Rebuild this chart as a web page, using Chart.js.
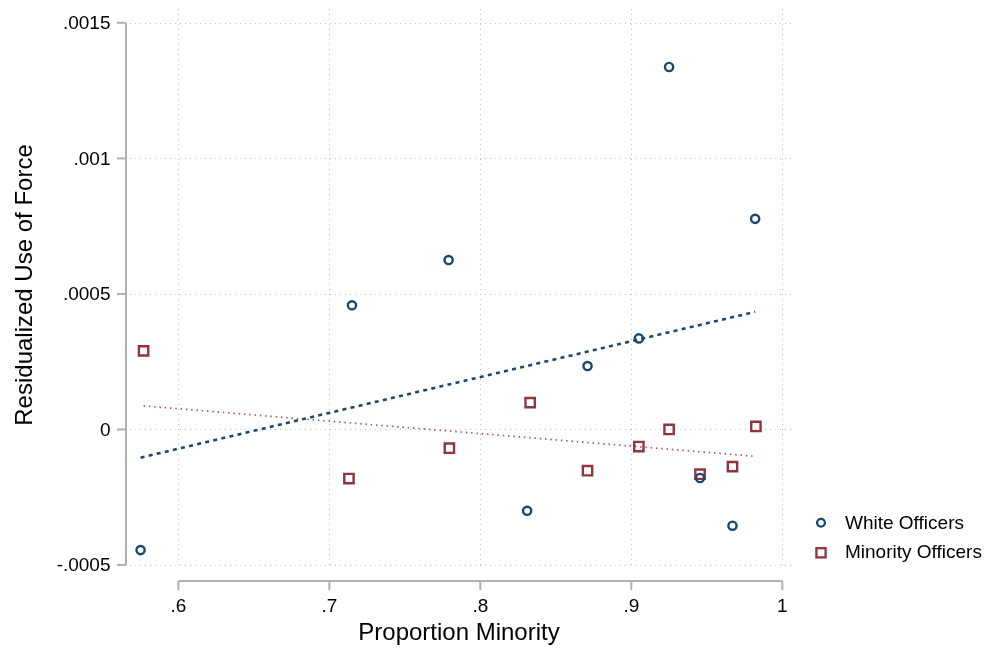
<!DOCTYPE html>
<html>
<head>
<meta charset="utf-8">
<script src="https://cdn.jsdelivr.net/npm/chart.js@4.4.1/dist/chart.umd.min.js"></script>
<style>
html,body{margin:0;padding:0;background:#fff;}
#wrap{width:989px;height:653px;position:relative;}
</style>
</head>
<body>
<div id="wrap"><canvas id="c"></canvas></div>
<script>
// ---- data ----
const whiteX = [0.575, 0.715, 0.779, 0.831, 0.871, 0.905, 0.925, 0.9455, 0.967, 0.982];
const whiteY = [-0.000445, 0.000458, 0.000625, -0.000300, 0.000234, 0.000336, 0.001337, -0.000179, -0.000355, 0.000777];
const minorityX = [0.577, 0.713, 0.7795, 0.833, 0.871, 0.905, 0.925, 0.9455, 0.967, 0.9825];
const minorityY = [0.000290, -0.000181, -0.000069, 0.000099, -0.000152, -0.000063, 0.000000, -0.000165, -0.000137, 0.000011];
const whiteFitX = [0.575, 0.982];
const whiteFitY = [-0.000104, 0.000434];
const minorityFitX = [0.577, 0.9825];
const minorityFitY = [0.0000871, -0.0000993];
const xTicks = [0.6, 0.7, 0.8, 0.9, 1];
const xTickLabels = ['.6', '.7', '.8', '.9', '1'];
const yTicks = [-0.0005, 0, 0.0005, 0.001, 0.0015];
const yTickLabels = ['-.0005', '0', '.0005', '.001', '.0015'];
const seriesNames = ['White Officers', 'Minority Officers'];
const xTitle = 'Proportion Minority';
const yTitle = 'Residualized Use of Force';

const NAVY = '#1a476f';
const MAROON = '#90353b';
const FONT = '"Liberation Sans", Arial, sans-serif';

const toPts = (xs, ys) => xs.map((x, i) => ({x: x, y: ys[i]}));

const stataPlugin = {
  id: 'stata',
  beforeDatasetsDraw(chart) {
    const {ctx, chartArea: a, scales: {x, y}} = chart;
    ctx.save();
    ctx.strokeStyle = '#bdbdbd';
    ctx.lineWidth = 1;
    ctx.setLineDash([1, 4]);
    y.ticks.forEach(t => {
      const py = Math.round(y.getPixelForValue(t.value)) + 0.5;
      ctx.beginPath(); ctx.moveTo(a.left, py); ctx.lineTo(a.right, py); ctx.stroke();
    });
    x.ticks.forEach(t => {
      const px = Math.round(x.getPixelForValue(t.value)) + 0.5;
      ctx.beginPath(); ctx.moveTo(px, a.top); ctx.lineTo(px, a.bottom); ctx.stroke();
    });
    ctx.restore();
  },
  afterDraw(chart) {
    const {ctx, chartArea: a, scales: {x, y}} = chart;
    ctx.save();
    ctx.setLineDash([]);
    ctx.strokeStyle = '#b0b0b0';
    ctx.lineWidth = 2;
    // y axis (offset from plot region)
    const ax = a.left - 4;
    const yTop = y.getPixelForValue(yTicks[yTicks.length - 1]);
    const yBot = y.getPixelForValue(yTicks[0]);
    ctx.beginPath(); ctx.moveTo(ax, yTop); ctx.lineTo(ax, yBot); ctx.stroke();
    y.ticks.forEach(t => {
      const py = y.getPixelForValue(t.value);
      ctx.beginPath(); ctx.moveTo(ax - 9, py); ctx.lineTo(ax, py); ctx.stroke();
    });
    // x axis (offset from plot region)
    const ay = a.bottom + 13;
    const xL = x.getPixelForValue(xTicks[0]);
    const xR = x.getPixelForValue(xTicks[xTicks.length - 1]);
    ctx.beginPath(); ctx.moveTo(xL, ay); ctx.lineTo(xR, ay); ctx.stroke();
    x.ticks.forEach(t => {
      const px = x.getPixelForValue(t.value);
      ctx.beginPath(); ctx.moveTo(px, ay); ctx.lineTo(px, ay + 9); ctx.stroke();
    });
    // tick labels
    ctx.fillStyle = '#000';
    ctx.font = '19px ' + FONT;
    ctx.textAlign = 'right';
    ctx.textBaseline = 'middle';
    y.ticks.forEach((t, i) => {
      ctx.fillText(yTickLabels[i], ax - 15.5, y.getPixelForValue(t.value) + 1);
    });
    ctx.textAlign = 'center';
    ctx.textBaseline = 'alphabetic';
    x.ticks.forEach((t, i) => {
      ctx.fillText(xTickLabels[i], x.getPixelForValue(t.value), 611.7);
    });
    // axis titles
    ctx.font = '24px ' + FONT;
    ctx.textAlign = 'center';
    ctx.textBaseline = 'alphabetic';
    ctx.fillText(xTitle, 459, 640);
    ctx.save();
    ctx.translate(31.5, 285);
    ctx.rotate(-Math.PI / 2);
    ctx.fillText(yTitle, 0, 0);
    ctx.restore();
    // legend
    const ds = chart.data.datasets;
    ctx.font = '19px ' + FONT;
    ctx.textAlign = 'left';
    ctx.lineWidth = 2.3;
    ctx.strokeStyle = ds[0].borderColor;
    ctx.beginPath(); ctx.arc(821, 522.7, 3.9, 0, Math.PI * 2); ctx.stroke();
    ctx.fillText(seriesNames[0], 845, 529.3);
    ctx.strokeStyle = ds[1].borderColor;
    ctx.strokeRect(821 - 4.6, 552.8 - 4.6, 9.2, 9.2);
    ctx.fillText(seriesNames[1], 845, 557.5);
    ctx.restore();
  }
};

new Chart(document.getElementById('c'), {
  type: 'scatter',
  data: {
    datasets: [
      {
        label: seriesNames[0],
        data: toPts(whiteX, whiteY),
        pointStyle: 'circle',
        pointRadius: 4.1,
        borderWidth: 2.4,
        borderColor: NAVY,
        backgroundColor: 'rgba(0,0,0,0)',
        order: 1
      },
      {
        label: seriesNames[1],
        data: toPts(minorityX, minorityY),
        pointStyle: 'rect',
        pointRadius: 6.6,
        borderWidth: 2.4,
        borderColor: MAROON,
        backgroundColor: 'rgba(0,0,0,0)',
        order: 2
      },
      {
        label: 'White fit',
        data: toPts(whiteFitX, whiteFitY),
        showLine: true,
        pointRadius: 0,
        borderColor: NAVY,
        borderWidth: 2.6,
        borderDash: [4, 4.3],
        fill: false,
        order: 3
      },
      {
        label: 'Minority fit',
        data: toPts(minorityFitX, minorityFitY),
        showLine: true,
        pointRadius: 0,
        borderColor: '#b0555b',
        borderWidth: 1.7,
        borderDash: [1.5, 3.8],
        fill: false,
        order: 4
      }
    ]
  },
  options: {
    responsive: true,
    maintainAspectRatio: false,
    animation: false,
    events: [],
    layout: {padding: {top: 7, right: 194, left: 0, bottom: 0}},
    plugins: {legend: {display: false}, tooltip: {enabled: false}},
    scales: {
      x: {
        type: 'linear',
        min: 0.568,
        max: 1.0084,
        grid: {display: false},
        border: {display: false},
        afterBuildTicks: s => { s.ticks = xTicks.map(v => ({value: v})); },
        afterFit: s => { s.height = 85; s.paddingLeft = 0; s.paddingRight = 0; },
        ticks: {display: false}
      },
      y: {
        type: 'linear',
        min: -0.000511,
        max: 0.001551,
        grid: {display: false},
        border: {display: false},
        afterBuildTicks: s => { s.ticks = yTicks.map(v => ({value: v})); },
        afterFit: s => { s.width = 130; s.paddingTop = 0; s.paddingBottom = 0; },
        ticks: {display: false}
      }
    }
  },
  plugins: [stataPlugin]
});
</script>
</body>
</html>
